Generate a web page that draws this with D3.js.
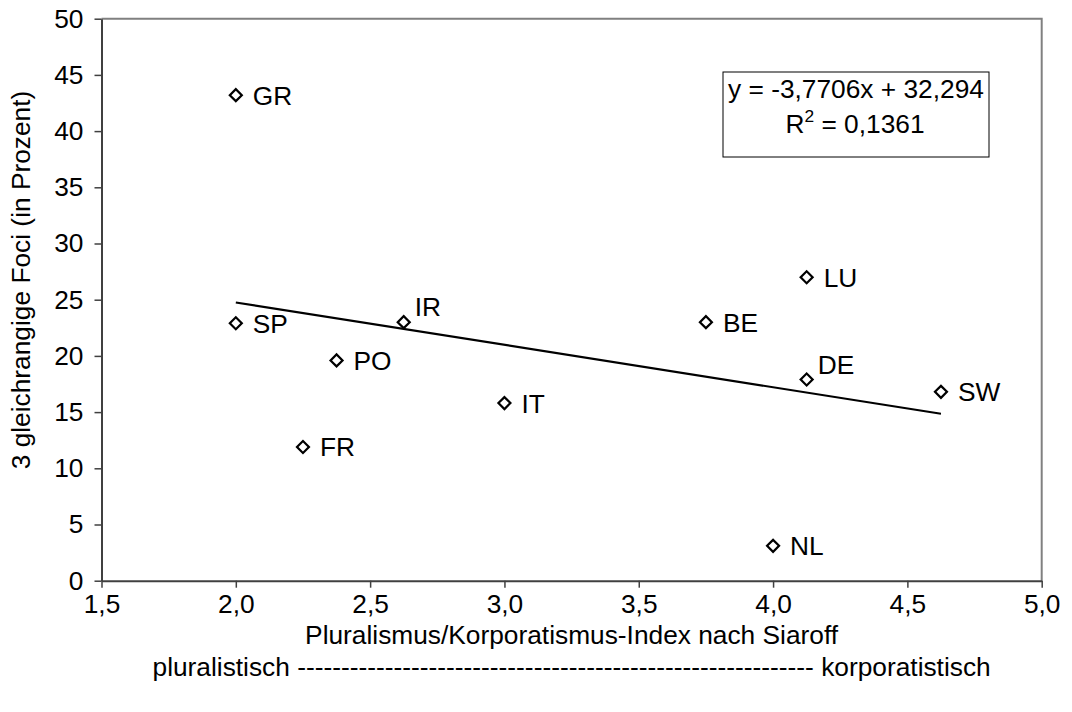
<!DOCTYPE html>
<html>
<head>
<meta charset="utf-8">
<script src="https://cdn.jsdelivr.net/npm/d3@7"></script>
<style>
  html, body { margin: 0; padding: 0; background: #fff; }
  svg { display: block; font-family: "Liberation Sans", Arial, sans-serif; }
</style>
</head>
<body>
<svg id="chart" width="1072" height="712"></svg>
<script>
// ---- data ----
const countries = ["GR", "SP", "IR", "PO", "FR", "IT", "BE", "LU", "DE", "SW", "NL"];
const siaroffIndex = [2.0, 2.0, 2.625, 2.375, 2.25, 3.0, 3.75, 4.125, 4.125, 4.625, 4.0];
const fociPercent = [43.2, 22.9, 23.0, 19.6, 11.9, 15.8, 23.0, 27.0, 17.9, 16.8, 3.1];
const trendSlope = -3.7706;
const trendIntercept = 32.294;
const equationText = "y = -3,7706x + 32,294";
const r2Text = "0,1361";
const xTicks = [1.5, 2.0, 2.5, 3.0, 3.5, 4.0, 4.5, 5.0];
const yTicks = [0, 5, 10, 15, 20, 25, 30, 35, 40, 45, 50];
const xTitle = "Pluralismus/Korporatismus-Index nach Siaroff";
const xSubtitle = "pluralistisch " + "-".repeat(59) + " korporatistisch";
const yTitle = "3 gleichrangige Foci (in Prozent)";

(function () {
// ---- layout ----
const pL = 101.5, pR = 1041.7, pT = 18.7, pB = 580.7;
const fs = 26.3;
const svg = d3.select("#chart");
const x = d3.scaleLinear().domain([1.5, 5.0]).range([pL, pR]);
const y = d3.scaleLinear().domain([0, 50]).range([pB, pT]);
const fmt = v => d3.format(".1f")(v).replace(".", ",");

// plot frame (top/right)
svg.append("path")
  .attr("d", `M${pL},${pT}H${pR}V${pB}`)
  .attr("fill", "none").attr("stroke", "#808080").attr("stroke-width", 2);

// axes
const yAxis = d3.axisLeft(y).tickValues(yTicks).tickSize(7).tickPadding(11).tickSizeOuter(0);
const gy = svg.append("g").attr("transform", `translate(${pL},0)`).call(yAxis);
const xAxis = d3.axisBottom(x).tickValues(xTicks).tickFormat(fmt).tickSize(7).tickPadding(7).tickSizeOuter(0);
const gx = svg.append("g").attr("transform", `translate(0,${pB})`).call(xAxis);
[gx, gy].forEach(g => {
  g.select(".domain").attr("stroke", "#404040").attr("stroke-width", 2);
  g.selectAll(".tick line").attr("stroke", "#404040").attr("stroke-width", 1.5);
  g.selectAll(".tick text").attr("fill", "#000").attr("font-size", fs)
    .attr("font-family", "Liberation Sans, Arial, sans-serif");
});

// trend line
const xr = d3.extent(siaroffIndex);
svg.append("line")
  .attr("x1", x(xr[0])).attr("y1", y(trendSlope * xr[0] + trendIntercept))
  .attr("x2", x(xr[1])).attr("y2", y(trendSlope * xr[1] + trendIntercept))
  .attr("stroke", "#000").attr("stroke-width", 2.2);

// points
const pts = countries.map((c, i) => ({ c, xv: siaroffIndex[i], yv: fociPercent[i] }));
const diamond = d3.symbol().type(d3.symbolSquare).size(72);
svg.append("g").selectAll("path").data(pts).join("path")
  .attr("d", diamond)
  .attr("transform", d => `translate(${x(d.xv)},${y(d.yv)}) rotate(45)`)
  .attr("fill", "#fff").attr("stroke", "#000").attr("stroke-width", 2.2);

// labels
const labelAbove = new Set(["IR", "DE"]);
svg.append("g").selectAll("text").data(pts).join("text")
  .attr("x", d => x(d.xv) + (labelAbove.has(d.c) ? 11 : 17))
  .attr("y", d => y(d.yv) + (labelAbove.has(d.c) ? -6 : 9.5))
  .attr("font-size", fs).attr("fill", "#000")
  .text(d => d.c);

// equation box
svg.append("rect").attr("x", 723).attr("y", 72).attr("width", 266).attr("height", 85)
  .attr("fill", "#fff").attr("stroke", "#000").attr("stroke-width", 1);
svg.append("text").attr("x", 856).attr("y", 98).attr("text-anchor", "middle")
  .attr("font-size", fs).text(equationText);
const r2 = svg.append("text").attr("x", 855).attr("y", 133).attr("text-anchor", "middle")
  .attr("font-size", fs);
r2.append("tspan").text("R");
r2.append("tspan").attr("font-size", fs * 0.66).attr("dy", -11).text("2");
r2.append("tspan").attr("dy", 11).text(" = " + r2Text);

// titles
svg.append("text").attr("x", (pL + pR) / 2).attr("y", 644).attr("text-anchor", "middle")
  .attr("font-size", fs).text(xTitle);
svg.append("text").attr("x", (pL + pR) / 2).attr("y", 676).attr("text-anchor", "middle")
  .attr("font-size", fs).text(xSubtitle);
svg.append("text")
  .attr("transform", `translate(30,280) rotate(-90)`)
  .attr("text-anchor", "middle").attr("font-size", fs).text(yTitle);
})();
</script>
</body>
</html>
